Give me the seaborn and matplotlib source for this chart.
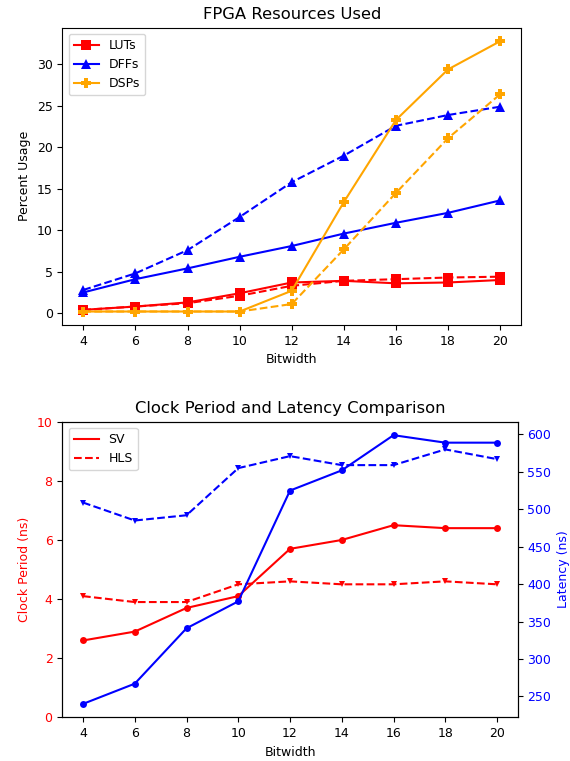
import matplotlib
matplotlib.use("Agg")
import matplotlib.pyplot as plt
from matplotlib.lines import Line2D
import seaborn as sns

plt.rcParams["font.size"] = 9
plt.rcParams["axes.titlesize"] = 11.8

bitwidth = [4, 6, 8, 10, 12, 14, 16, 18, 20]

luts_sv = [0.4, 0.8, 1.3, 2.4, 3.7, 3.9, 3.6, 3.7, 4.0]
luts_hls = [0.4, 0.8, 1.2, 2.1, 3.3, 3.9, 4.1, 4.3, 4.4]
dffs_sv = [2.5, 4.1, 5.4, 6.8, 8.1, 9.6, 10.9, 12.1, 13.6]
dffs_hls = [2.8, 4.8, 7.6, 11.6, 15.8, 19.0, 22.6, 23.9, 24.9]
dsps_sv = [0.2, 0.2, 0.2, 0.2, 2.7, 13.4, 23.3, 29.4, 32.8]
dsps_hls = [0.2, 0.2, 0.2, 0.2, 1.1, 7.7, 14.5, 21.1, 26.4]

clock_sv = [2.6, 2.9, 3.7, 4.1, 5.7, 6.0, 6.5, 6.4, 6.4]
clock_hls = [4.1, 3.9, 3.9, 4.5, 4.6, 4.5, 4.5, 4.6, 4.5]
latency_sv = [240, 267, 341, 377, 525, 552, 599, 589, 589]
latency_hls = [509, 485, 492, 555, 571, 559, 559, 580, 567]

fig = plt.figure(figsize=(5.7, 7.61), dpi=100)
ax1 = fig.add_axes([0.1096, 0.5729, 0.8044, 0.3907])
ax2 = fig.add_axes([0.1093, 0.0574, 0.7990, 0.3884])

# Top: resources
series = [
    ("LUTs", luts_sv, luts_hls, "red", "s"),
    ("DFFs", dffs_sv, dffs_hls, "blue", "^"),
    ("DSPs", dsps_sv, dsps_hls, "orange", "P"),
]
handles = []
for name, sv, hls, col, mk in series:
    sns.lineplot(x=bitwidth, y=sv, ax=ax1, color=col, marker=mk, markersize=7,
                 markeredgewidth=0, linestyle="-", linewidth=1.5)
    sns.lineplot(x=bitwidth, y=hls, ax=ax1, color=col, marker=mk, markersize=7,
                 markeredgewidth=0, linestyle="--", linewidth=1.5)
    handles.append(Line2D([], [], color=col, marker=mk, markersize=7,
                          markeredgewidth=0, linestyle="-", linewidth=1.5, label=name))
ax1.legend(handles=handles, loc="upper left")
ax1.set_title("FPGA Resources Used")
ax1.set_xlabel("Bitwidth")
ax1.set_ylabel("Percent Usage")
ax1.set_xticks(bitwidth)

# Bottom: clock & latency
sns.lineplot(x=bitwidth, y=clock_sv, ax=ax2, color="red", marker="o", markersize=5,
             markeredgewidth=0, linestyle="-", linewidth=1.5)
sns.lineplot(x=bitwidth, y=clock_hls, ax=ax2, color="red", marker="v", markersize=5,
             markeredgewidth=0, linestyle="--", linewidth=1.5)
ax2.set_ylim(0, 10)
ax2.set_xticks(bitwidth)
ax2.set_xlabel("Bitwidth")
ax2.set_ylabel("Clock Period (ns)", color="red")
ax2.tick_params(axis="y", labelcolor="red")
ax2.set_title("Clock Period and Latency Comparison")

ax3 = ax2.twinx()
sns.lineplot(x=bitwidth, y=latency_sv, ax=ax3, color="blue", marker="o", markersize=5,
             markeredgewidth=0, linestyle="-", linewidth=1.5)
sns.lineplot(x=bitwidth, y=latency_hls, ax=ax3, color="blue", marker="v", markersize=5,
             markeredgewidth=0, linestyle="--", linewidth=1.5)
ax3.set_ylabel("Latency (ns)", color="blue")
ax3.tick_params(axis="y", labelcolor="blue")

leg_h = [Line2D([], [], color="red", linestyle="-", label="SV"),
         Line2D([], [], color="red", linestyle="--", label="HLS")]
ax2.legend(handles=leg_h, loc="upper left")

fig.savefig("out.png", dpi=100)
